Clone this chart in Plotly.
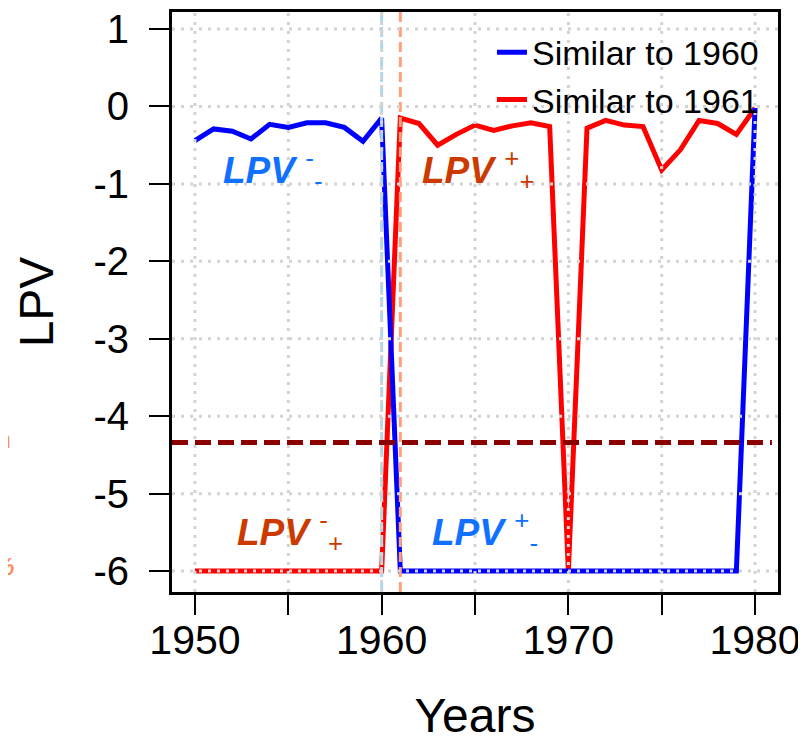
import plotly.graph_objects as go

# Years on the x axis
YEARS = list(range(1950, 1981))

# LPV of each year when compared with 1960 (blue) and 1961 (red)
LPV_1960 = [-0.44, -0.29, -0.32, -0.42, -0.23, -0.27, -0.21, -0.21, -0.27, -0.45,
            -0.15, -6, -6, -6, -6, -6, -6, -6, -6, -6,
            -6, -6, -6, -6, -6, -6, -6, -6, -6, -6,
            -0.02]
LPV_1961 = [-6, -6, -6, -6, -6, -6, -6, -6, -6, -6,
            -6, -0.15, -0.22, -0.50, -0.36, -0.24, -0.31, -0.25, -0.21, -0.26,
            -6, -0.28, -0.18, -0.24, -0.26, -0.82, -0.56, -0.18, -0.22, -0.36,
            -0.02]

X_TICKS = [1950, 1955, 1960, 1965, 1970, 1975, 1980]
X_LABELS = ['1950', '', '1960', '', '1970', '', '1980']
Y_TICKS = [1, 0, -1, -2, -3, -4, -5, -6]
Y_LABELS = ['1', '0', '-1', '-2', '-3', '-4', '-5', '-6']

REF_YEARS = [1960, 1961]
REF_COLORS = ['#add8e6', '#ffa07a']
THRESHOLD = -4.34

BLUE = '#1070ff'
ORANGE = '#cc3a00'
FONT = 'Liberation Sans, Arial, sans-serif'

fig = go.Figure()
fig.add_trace(go.Scatter(x=YEARS, y=LPV_1961, mode='lines', name='Similar to 1961',
                         line=dict(color='#ff0000', width=5), legendrank=2))
fig.add_trace(go.Scatter(x=YEARS, y=LPV_1960, mode='lines', name='Similar to 1960',
                         line=dict(color='#0000ff', width=5), legendrank=1))

# vertical reference lines for the two compared years
for yr, col in zip(REF_YEARS, REF_COLORS):
    fig.add_shape(type='line', xref='x', yref='paper', x0=yr, x1=yr, y0=0, y1=1,
                  line=dict(color=col, width=3, dash='10px,5px'), layer='above')

# dotted grid drawn on top of the lines (R style)
for xv in X_TICKS:
    fig.add_shape(type='line', xref='x', yref='paper', x0=xv, x1=xv, y0=0, y1=1,
                  line=dict(color='#d3d3d3', width=3, dash='3px,6px'), layer='above')
for yv in Y_TICKS:
    fig.add_shape(type='line', xref='paper', yref='y', x0=0, x1=1, y0=yv, y1=yv,
                  line=dict(color='#d3d3d3', width=3, dash='3px,6px'), layer='above')

# threshold line
fig.add_shape(type='line', xref='paper', yref='y', x0=0, x1=0.99, y0=THRESHOLD, y1=THRESHOLD,
              line=dict(color='#8b0000', width=5, dash='16px,7px'), layer='above')

labels = [
    (1951.4, -0.81, BLUE, '<b><i>LPV</i></b> <sup>-</sup><sub>-</sub>'),
    (1962.05, -0.81, ORANGE, '<b><i>LPV</i></b> <sup>+</sup><sub>+</sub>'),
    (1952.15, -5.49, ORANGE, '<b><i>LPV</i></b> <sup>-</sup><sub>+</sub>'),
    (1962.6, -5.49, BLUE, '<b><i>LPV</i></b> <sup>+</sup><sub>-</sub>'),
]
for x, y, col, txt in labels:
    fig.add_annotation(x=x, y=y, text=txt, showarrow=False, xanchor='left', yanchor='middle',
                       font=dict(family=FONT, size=37, color=col))

# clipped text fragments at the left edge
fig.add_annotation(x=-0.262, y=-4.30, xref='paper', yref='y', text='<b>n</b>', showarrow=False,
                   xanchor='right', font=dict(family=FONT, size=26, color='#ff8c50'))
fig.add_annotation(x=-0.257, y=-5.94, xref='paper', yref='y', text='<b><i>%</i></b>', showarrow=False,
                   xanchor='right', font=dict(family=FONT, size=24, color='#ff8c50'))

# the page body adds 8px, so the figure is shrunk by that much
fig.update_layout(
    width=798, height=734,
    margin=dict(l=164, r=28, t=4, b=150),
    plot_bgcolor='white', paper_bgcolor='white',
    font=dict(family=FONT, size=40, color='black'),
    showlegend=True,
    legend=dict(x=0.528, y=0.98, xanchor='left', yanchor='top', bgcolor='rgba(0,0,0,0)',
                font=dict(size=34), tracegroupgap=0),
)
fig.update_xaxes(range=[1948.77, 1981.23], tickvals=X_TICKS, ticktext=X_LABELS,
                 showgrid=False, zeroline=False, showline=True, mirror=True, automargin=False,
                 linecolor='black', linewidth=3, ticks='outside', ticklen=20, tickwidth=2,
                 tickcolor='black', ticklabelstandoff=-10, ticklabeloverflow='allow',
                 tickfont=dict(size=41), title=dict(text='Years', standoff=50))
fig.update_yaxes(range=[-6.27, 1.22], tickvals=Y_TICKS, ticktext=Y_LABELS,
                 showgrid=False, zeroline=False, showline=True, mirror=True, automargin=False,
                 linecolor='black', linewidth=3, ticks='outside', ticklen=20, tickwidth=2,
                 tickcolor='black', ticklabelstandoff=12, ticklabeloverflow='allow',
                 title=dict(text='LPV', standoff=25))

fig.write_html('out.html')
